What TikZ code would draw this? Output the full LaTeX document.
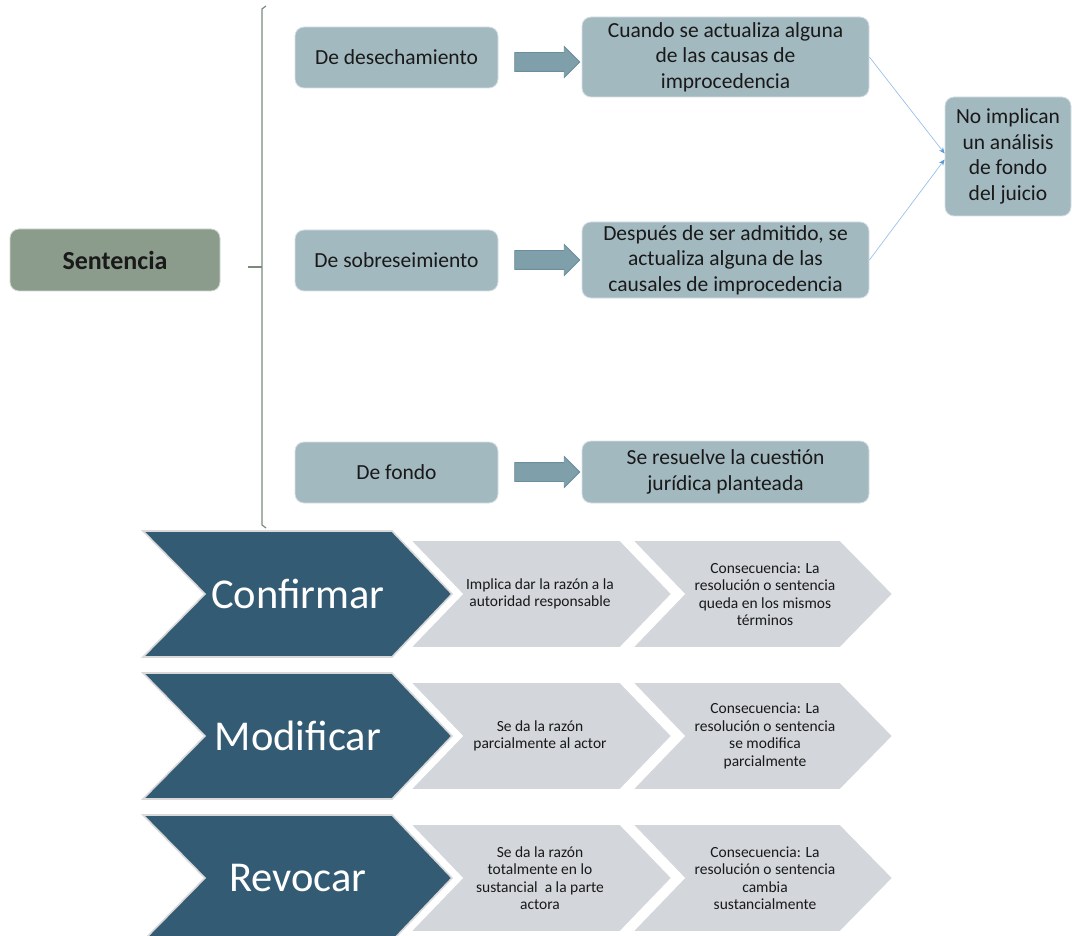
\documentclass[tikz,border=0pt]{standalone}
\usepackage{fontspec}
\setmainfont{Carlito}
\usetikzlibrary{arrows.meta,shapes.arrows}

\definecolor{sentfill}{HTML}{8B9C8D}
\definecolor{boxfill}{HTML}{A3B9C0}
\definecolor{bracecol}{HTML}{7A8B7C}
\definecolor{arrfill}{HTML}{7F9FAB}
\definecolor{arrline}{HTML}{6A8E9C}
\definecolor{linkcol}{HTML}{9CC0E8}
\definecolor{tipcol}{HTML}{5B9BD5}
\definecolor{darkchev}{HTML}{345B74}
\definecolor{lightchev}{HTML}{D3D6DB}

\tikzset{
  sentbox/.style={rounded corners=9pt, fill=sentfill, draw=white!60!sentfill, line width=0.8pt,
    minimum width=210pt, minimum height=62pt, font=\fontsize{26}{30}\selectfont\bfseries, text=black!90},
  kindbox/.style={rounded corners=9pt, fill=boxfill, draw=white!55!boxfill, line width=0.8pt,
    minimum width=203pt, minimum height=61pt, font=\fontsize{21.5}{25.5}\selectfont, text=black!90},
  whybox/.style={kindbox, minimum width=287pt, align=center},
  blockarrow/.style={single arrow, fill=arrfill, draw=arrline, line width=0.8pt,
    minimum height=65pt, inner sep=9pt, single arrow head extend=6pt},
  link/.style={linkcol, line width=0.7pt, -{Stealth[length=6pt,width=5pt,color=tipcol]}},
  chevdark/.style={fill=darkchev, draw=white!85!black, line width=1.6pt},
  chevlight/.style={fill=lightchev, draw=white, line width=1.6pt},
  bigword/.style={text=white, font=\fontsize{42.5}{50}\selectfont},
  smalltxt/.style={align=center, text=black!90, font=\fontsize{15.5}{17.5}\selectfont}
}

\begin{document}
\begin{tikzpicture}[x=1pt,y=-1pt]
\clip (0,0) rectangle (1072,936);

% tipos de sentencia
\node[sentbox] (sent) at (115,260) {Sentencia};
\draw[bracecol, line width=1.2pt] (266,6) -- (262,9) -- (262,525) -- (266,528);
\coordinate (tick) at (262,267);
\draw[bracecol, line width=1.2pt] (248,267) -- (tick);

\node[kindbox] (desech) at (396.5,57.5) {De desechamiento};
\node[kindbox] (sobre) at (396.5,260.5) {De sobreseimiento};
\node[kindbox] (fondo) at (396.5,472.5) {De fondo};

\node[whybox, minimum height=80pt] (desech-c) at (725.5,57) {Cuando se actualiza alguna\\de las causas de\\improcedencia};
\node[whybox, minimum height=76pt] (sobre-c) at (725.5,260) {Después de ser admitido, se\\actualiza alguna de las\\causales de improcedencia};
\node[whybox, minimum height=62pt] (fondo-c) at (725.5,472) {Se resuelve la cuestión\\jurídica planteada};

\node[kindbox, align=center, minimum width=126pt, minimum height=119pt] (noimp) at (1008,156.5) {No implican\\un análisis\\de fondo\\del juicio};

\node[blockarrow] (a1) at (542.5,62) {};
\node[blockarrow] (a2) at (542.5,260) {};
\node[blockarrow] (a3) at (542.5,472) {};

\draw[link] (desech-c.east) -- ([yshift=3pt]noimp.west);
\draw[link] (sobre-c.east) -- ([yshift=-3pt]noimp.west);

% efectos
\foreach \t in {531,673,815}{
  \draw[chevlight] (632,\t+9) -- (840,\t+9) -- (893,\t+63) -- (840,\t+117) -- (632,\t+117) -- (684,\t+63) -- cycle;
  \draw[chevlight] (410,\t+9) -- (620,\t+9) -- (672,\t+63) -- (620,\t+117) -- (410,\t+117) -- (462,\t+63) -- cycle;
  \draw[chevdark] (143,\t) -- (392,\t) -- (452,\t+63) -- (392,\t+126) -- (143,\t+126) -- (205,\t+63) -- cycle;
}

\node[bigword] (conf) at (298,594) {Confirmar};
\node[smalltxt] (conf-a) at (540,594) {Implica dar la razón a la\\autoridad responsable};
\node[smalltxt] (conf-b) at (765,594) {Consecuencia: La\\resolución o sentencia\\queda en los mismos\\términos};

\node[bigword] (modif) at (298,736) {Modificar};
\node[smalltxt] (modif-a) at (540,736) {Se da la razón\\parcialmente al actor};
\node[smalltxt] (modif-b) at (765,736) {Consecuencia: La\\resolución o sentencia\\se modifica\\parcialmente};

\node[bigword] (revoc) at (298,878) {Revocar};
\node[smalltxt] (revoc-a) at (540,878) {Se da la razón\\totalmente en lo\\sustancial\ \ a la parte\\actora};
\node[smalltxt] (revoc-b) at (765,878) {Consecuencia: La\\resolución o sentencia\\cambia\\sustancialmente};
\end{tikzpicture}
\end{document}
